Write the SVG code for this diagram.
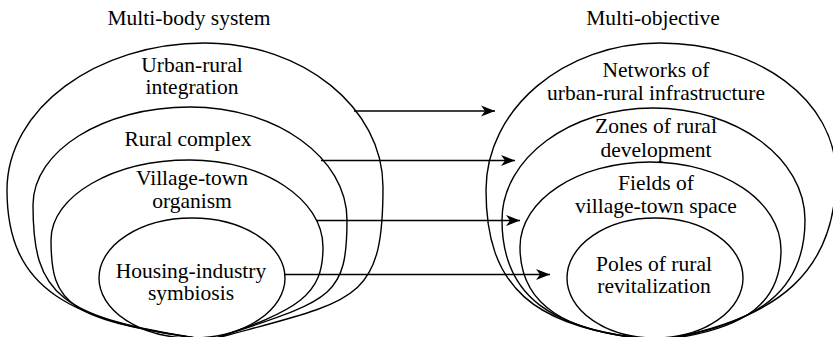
<svg xmlns="http://www.w3.org/2000/svg" width="833" height="337" viewBox="0 0 833 337">
<style>
  .shape { fill: none; stroke: #000; stroke-width: 1.4; }
  .lbl { font-family: 'Liberation Serif', 'Times New Roman', Times, 'DejaVu Serif', serif; font-size: 21.5px; fill: #000; text-anchor: middle; }
  .conn { stroke: #000; stroke-width: 1.4; fill: none; marker-end: url(#arr); }
</style>
<defs>
  <marker id="arr" markerUnits="userSpaceOnUse" markerWidth="16" markerHeight="12" refX="14" refY="6" orient="auto">
    <path d="M0,0.5 L14,6 L0,11.5 L4,6 Z" fill="#000"/>
  </marker>
</defs>
<rect width="833" height="337" fill="#fff"/>

<g id="title-left"><text class="lbl" x="189" y="25">Multi-body system</text></g>
<g id="title-right"><text class="lbl" x="653" y="25">Multi-objective</text></g>

<g id="urban-rural-integration">
  <path class="shape" d="M210,340 C70,322 7,290 7,190 C7,109 96,43 205,43 C303,43 383,108 383,187 C383,305 355,300 210,340 Z"/>
  <text class="lbl" x="192" y="72">Urban-rural</text>
  <text class="lbl" x="192" y="94">integration</text>
</g>
<g id="rural-complex">
  <path class="shape" d="M210,340 C58,318 33,295 33,205 C33,151 103,107 190,107 C277,107 347,158 347,220 C347,300 330,300 210,340 Z"/>
  <text class="lbl" x="188" y="146">Rural complex</text>
</g>
<g id="village-town-organism">
  <path class="shape" d="M210,340 C68,320 51,305 51,240 C51,196 113,160 190,160 C263,160 323,199 323,247 C323,295 300,310 210,340 Z"/>
  <text class="lbl" x="192" y="185">Village-town</text>
  <text class="lbl" x="192" y="208">organism</text>
</g>
<g id="housing-industry-symbiosis">
  <ellipse class="shape" cx="192" cy="278" rx="93" ry="60"/>
  <text class="lbl" x="191" y="278">Housing-industry</text>
  <text class="lbl" x="191" y="300">symbiosis</text>
</g>

<g id="networks-infrastructure">
  <path class="shape" d="M660,340 C530,330 486,285 486,190 C486,109 564,43 660,43 C758,43 836,100 836,175 C836,270 780,320 660,340 Z"/>
  <text class="lbl" x="656" y="77">Networks of</text>
  <text class="lbl" x="656" y="100">urban-rural infrastructure</text>
</g>
<g id="zones-rural-development">
  <path class="shape" d="M660,340 C550,332 502,295 502,220 C502,158 570,108 653,108 C736,108 805,158 805,220 C805,290 760,325 660,340 Z"/>
  <text class="lbl" x="656" y="133">Zones of rural</text>
  <text class="lbl" x="656" y="157">development</text>
</g>
<g id="fields-village-town-space">
  <path class="shape" d="M660,340 C565,334 520,305 520,247 C520,200 578,162 650,162 C722,162 781,201 781,250 C781,300 750,330 660,340 Z"/>
  <text class="lbl" x="656" y="190">Fields of</text>
  <text class="lbl" x="656" y="213">village-town space</text>
</g>
<g id="poles-rural-revitalization">
  <ellipse class="shape" cx="655" cy="278" rx="88" ry="60"/>
  <text class="lbl" x="654" y="271">Poles of rural</text>
  <text class="lbl" x="654" y="293">revitalization</text>
</g>

<g id="connectors">
  <line class="conn" x1="354" y1="111" x2="495" y2="111"/>
  <line class="conn" x1="321" y1="160.5" x2="515" y2="160.5"/>
  <line class="conn" x1="316" y1="220.5" x2="520" y2="220.5"/>
  <line class="conn" x1="284" y1="274.5" x2="550" y2="274.5"/>
</g>
</svg>
